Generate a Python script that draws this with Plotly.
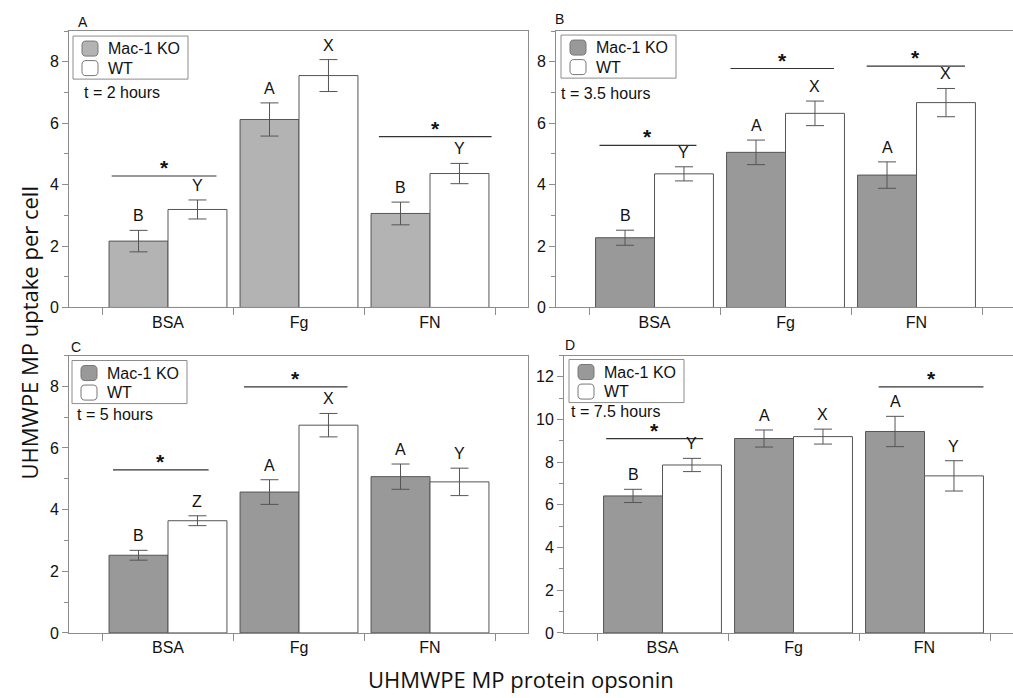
import plotly.graph_objects as go

FW, FH = 1013, 698
# the captured page comes out slightly squeezed vertically; compensate
YEFF = 688.0


def px(x):
    return x / FW


def py(y):
    return 1 - y / YEFF


categories = ["BSA", "Fg", "FN"]
series_names = ["Mac-1 KO", "WT"]
panel_labels = ["A", "B", "C", "D"]
time_labels = ["t = 2 hours", "t = 3.5 hours", "t = 5 hours", "t = 7.5 hours"]

# Mean values (Mac-1 KO, WT) per panel
ko_A = [2.16, 6.12, 3.06]
wt_A = [3.19, 7.55, 4.36]
ko_A_err = [0.35, 0.54, 0.37]
wt_A_err = [0.31, 0.52, 0.33]

ko_B = [2.27, 5.05, 4.31]
wt_B = [4.35, 6.32, 6.67]
ko_B_err = [0.245, 0.40, 0.43]
wt_B_err = [0.23, 0.40, 0.46]

ko_C = [2.52, 4.57, 5.07]
wt_C = [3.64, 6.74, 4.90]
ko_C_err = [0.16, 0.40, 0.41]
wt_C_err = [0.16, 0.38, 0.445]

ko_D = [6.42, 9.11, 9.44]
wt_D = [7.87, 9.20, 7.36]
ko_D_err = [0.31, 0.40, 0.71]
wt_D_err = [0.31, 0.35, 0.71]

# Letter groupings above bars
ko_letters_A = ["B", "A", "B"]
wt_letters_A = ["Y", "X", "Y"]
ko_letters_B = ["B", "A", "A"]
wt_letters_B = ["Y", "X", "X"]
ko_letters_C = ["B", "A", "A"]
wt_letters_C = ["Z", "X", "Y"]
ko_letters_D = ["B", "A", "A"]
wt_letters_D = ["Y", "X", "Y"]

# Significance bars: (x start, x end, y level) in category units / data units
sig_A = [(-0.43, 0.37, 4.28), (1.61, 2.47, 5.56)]
sig_B = [(-0.42, 0.32, 5.28), (0.58, 1.37, 7.78), (1.62, 2.37, 7.86)]
sig_C = [(-0.42, 0.31, 5.29), (0.58, 1.37, 7.98)]
sig_D = [(-0.43, 0.31, 9.11), (1.65, 2.45, 11.53)]

y_max = [9, 9, 9, 13]

panels = [
    (ko_A, wt_A, ko_A_err, wt_A_err, ko_letters_A, wt_letters_A, sig_A),
    (ko_B, wt_B, ko_B_err, wt_B_err, ko_letters_B, wt_letters_B, sig_B),
    (ko_C, wt_C, ko_C_err, wt_C_err, ko_letters_C, wt_letters_C, sig_C),
    (ko_D, wt_D, ko_D_err, wt_D_err, ko_letters_D, wt_letters_D, sig_D),
]

ko_colors = ["#b3b3b3", "#999999", "#999999", "#999999"]
wt_color = "#ffffff"

# pixel layout of plotting areas (left, right, top, bottom)
boxes = [(69, 528, 31, 307), (556, 1013, 31, 307), (69, 528, 355, 632), (564, 1013, 355, 632)]
cat_center0 = [168, 654.5, 168, 662.5]
legend_pos = [(73, 36), (561, 35), (72, 360), (569, 359)]
time_pos = [(82, 92), (559, 93), (75, 414), (569, 411)]
label_pos = [(83, 22), (559, 19), (76, 346), (570, 344)]

SANS = "Liberation Sans, Arial, Helvetica, sans-serif"
TICKFONT = dict(family=SANS, size=16, color="#111")
AXC = "#8c8c8c"
EDGE = "#555555"

fig = go.Figure()
annotations = []
shapes = []


def rounded_rect(x0, y0, w, h, r):
    x1, y1 = x0 + w, y0 + h
    pts = [
        f"M{px(x0 + r)},{py(y0)}",
        f"L{px(x1 - r)},{py(y0)}",
        f"Q{px(x1)},{py(y0)} {px(x1)},{py(y0 + r)}",
        f"L{px(x1)},{py(y1 - r)}",
        f"Q{px(x1)},{py(y1)} {px(x1 - r)},{py(y1)}",
        f"L{px(x0 + r)},{py(y1)}",
        f"Q{px(x0)},{py(y1)} {px(x0)},{py(y1 - r)}",
        f"L{px(x0)},{py(y0 + r)}",
        f"Q{px(x0)},{py(y0)} {px(x0 + r)},{py(y0)}",
        "Z",
    ]
    return " ".join(pts)


for i, (ko, wt, koe, wte, kol, wtl, sig) in enumerate(panels):
    n = "" if i == 0 else str(i + 1)
    xa, ya = "x" + n, "y" + n
    fig.add_trace(go.Bar(
        x=categories, y=ko, name=series_names[0], xaxis=xa, yaxis=ya, showlegend=False,
        marker=dict(color=ko_colors[i], line=dict(color=EDGE, width=1)),
        error_y=dict(type="data", array=koe, color=EDGE, thickness=1, width=9),
        hoverinfo="skip"))
    fig.add_trace(go.Bar(
        x=categories, y=wt, name=series_names[1], xaxis=xa, yaxis=ya, showlegend=False,
        marker=dict(color=wt_color, line=dict(color=EDGE, width=1)),
        error_y=dict(type="data", array=wte, color=EDGE, thickness=1, width=9),
        hoverinfo="skip"))

    l, r, t, b = boxes[i]
    dom_x = [max(0, px(l)), min(1, px(r))]
    dom_y = [max(0, py(b)), min(1, py(t))]
    xr = [(l - cat_center0[i]) / 131.0, (r - cat_center0[i]) / 131.0]
    right_border = i in (0, 2)
    fig.update_layout(**{
        "xaxis" + n: dict(domain=dom_x, anchor=ya, type="category", range=xr,
                          showline=True, linecolor=AXC, linewidth=1, mirror=True,
                          ticks="outside", tickson="boundaries", ticklen=7,
                          tickcolor=AXC, tickfont=TICKFONT, showgrid=False),
        "yaxis" + n: dict(domain=dom_y, anchor=xa, range=[0, y_max[i]], dtick=2,
                          showline=True, linecolor=AXC, linewidth=1,
                          mirror=right_border, ticks="outside", ticklen=6,
                          tickcolor=AXC, tickfont=TICKFONT, showgrid=False,
                          zeroline=False,
                          minor=dict(dtick=1, ticks="outside", ticklen=4,
                                     tickcolor=AXC, showgrid=False)),
    })

    # letters
    for j in range(3):
        annotations.append(dict(x=j - 0.225, y=ko[j] + koe[j], xref=xa, yref=ya,
                                text=kol[j], showarrow=False, yanchor="bottom",
                                yshift=4, font=TICKFONT))
        annotations.append(dict(x=j + 0.225, y=wt[j] + wte[j], xref=xa, yref=ya,
                                text=wtl[j], showarrow=False, yanchor="bottom",
                                yshift=4, font=TICKFONT))
    # significance lines and stars
    for (x0, x1, yy) in sig:
        shapes.append(dict(type="line", xref=xa, yref=ya, x0=x0, x1=x1, y0=yy, y1=yy,
                           line=dict(color="#333", width=1.2)))
        annotations.append(dict(x=(x0 + x1) / 2, y=yy, xref=xa, yref=ya, text="<b>*</b>",
                                showarrow=False, yanchor="bottom", yshift=-5,
                                font=dict(family=SANS, size=21, color="#111")))

    # legend key (framed)
    bx, by = legend_pos[i]
    shapes.append(dict(type="rect", xref="paper", yref="paper",
                       x0=px(bx), x1=px(bx + 115), y0=py(by + 43), y1=py(by),
                       line=dict(color=AXC, width=1), fillcolor="white"))
    for k, (nm, col) in enumerate(zip(series_names, [ko_colors[i], wt_color])):
        sy = by + 5 + 19.5 * k
        shapes.append(dict(type="path", xref="paper", yref="paper",
                           path=rounded_rect(bx + 9, sy, 16, 15, 4),
                           fillcolor=col, line=dict(color="#777", width=1)))
        annotations.append(dict(x=px(bx + 33), y=py(sy + 7.5), xref="paper", yref="paper",
                                text=nm, showarrow=False, xanchor="left", yanchor="middle",
                                font=TICKFONT))

    # time label
    annotations.append(dict(x=px(time_pos[i][0]), y=py(time_pos[i][1]), xref="paper",
                            yref="paper", text=time_labels[i], showarrow=False,
                            xanchor="left", yanchor="middle", font=TICKFONT))
    # panel label
    annotations.append(dict(x=px(label_pos[i][0]), y=py(label_pos[i][1]), xref="paper",
                            yref="paper", text=panel_labels[i], showarrow=False,
                            xanchor="center", yanchor="middle",
                            font=dict(family=SANS, size=14, color="#111")))

TITLEFONT = dict(family="Open Sans, Noto Sans, sans-serif", size=22, color="#111")
annotations.append(dict(x=px(29), y=py(333), xref="paper", yref="paper",
                        text="UHMWPE MP uptake per cell", textangle=-90, showarrow=False,
                        xanchor="center", yanchor="middle", font=TITLEFONT))
annotations.append(dict(x=px(521), y=py(678), xref="paper", yref="paper",
                        text="UHMWPE MP protein opsonin", showarrow=False,
                        xanchor="center", yanchor="middle", font=TITLEFONT))

fig.update_layout(
    width=FW, height=FH, margin=dict(l=0, r=0, t=0, b=0),
    paper_bgcolor="white", plot_bgcolor="white",
    barmode="group", bargap=0.1, bargroupgap=0,
    annotations=annotations, shapes=shapes, hovermode=False,
)

fig.write_html(
    "out.html",
    config={"displayModeBar": False, "staticPlot": True},
    post_script="document.body.style.margin='0';document.body.style.overflow='hidden';",
)
